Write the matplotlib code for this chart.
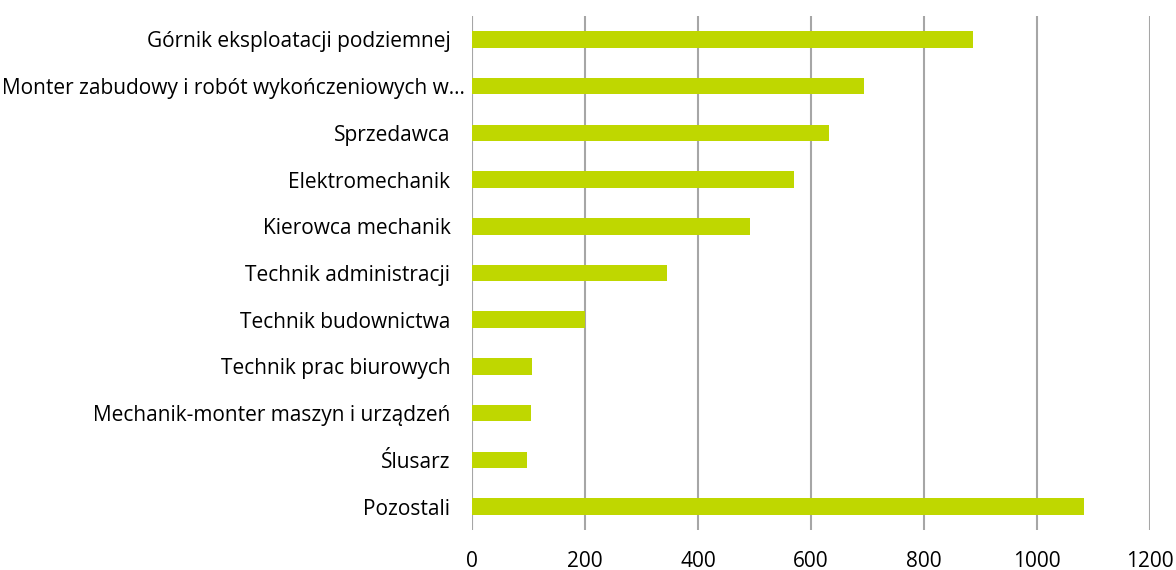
import matplotlib.pyplot as plt
from matplotlib.transforms import ScaledTranslation

plt.rcParams['font.family'] = ['Open Sans', 'DejaVu Sans']

categories = [
    'Górnik eksploatacji podziemnej',
    'Monter zabudowy i robót wykończeniowych w...',
    'Sprzedawca',
    'Elektromechanik',
    'Kierowca mechanik',
    'Technik administracji',
    'Technik budownictwa',
    'Technik prac biurowych',
    'Mechanik-monter maszyn i urządzeń',
    'Ślusarz',
    'Pozostali',
]
values = [886, 693, 632, 570, 492, 346, 200, 107, 104, 97, 1084]
xticks = [0, 200, 400, 600, 800, 1000, 1200]

fig = plt.figure(figsize=(11.76, 5.7), dpi=100)
ax = fig.add_axes([472 / 1176, 1 - 530 / 570, 678 / 1176, 514 / 570])

ypos = list(range(len(categories)))
ax.barh(ypos, values, height=0.355, color='#bfd700', zorder=3)

ax.set_xlim(0, 1200)
ax.set_ylim(len(categories) - 0.5, -0.5)
ax.set_yticks(ypos)
ax.set_yticklabels(categories)
ax.set_xticks(xticks)
ax.set_xticklabels([str(t) for t in xticks])

ax.grid(axis='x', color='#a6a6a6', linewidth=1.5, zorder=0)
ax.axvline(0, color='#d9d9d9', linewidth=1.5, zorder=1)
for s in ax.spines.values():
    s.set_visible(False)

ax.tick_params(axis='both', length=0, labelsize=15, colors='#000000')
ax.tick_params(axis='y', pad=15.5)
ax.tick_params(axis='x', pad=15)

# the truncated label sits closer to the axis in the original
lab = ax.get_yticklabels()[1]
lab.set_transform(lab.get_transform() + ScaledTranslation(14 / 100, 0, fig.dpi_scale_trans))

fig.savefig('out.png', dpi=100)
